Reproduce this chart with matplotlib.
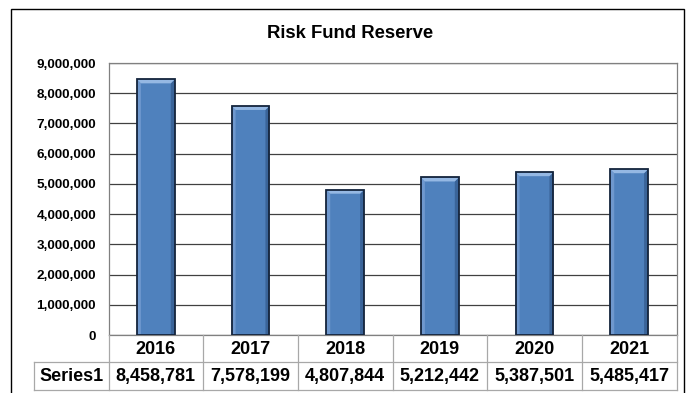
import matplotlib.pyplot as plt
from matplotlib.patches import Polygon, Rectangle

years = ["2016", "2017", "2018", "2019", "2020", "2021"]
reserve = [8458781, 7578199, 4807844, 5212442, 5387501, 5485417]
series_name = "Series1"
title = "Risk Fund Reserve"

W, H = 694, 393
fig = plt.figure(figsize=(W / 100, H / 100), dpi=100)
font = "Liberation Sans"


def fx(px):
    return px / W


def fy(py):
    return 1 - py / H


# plot area in pixels
L, R, T, B = 108.5, 676.5, 63, 335
ax = fig.add_axes([fx(L), fy(B), fx(R - L), fy(T) - fy(B)])
ax.set_xlim(0, len(years))
ax.set_ylim(0, 9000000)
ax.set_yticks(range(0, 9000001, 1000000))
ax.set_yticklabels([f"{v:,}" for v in range(0, 9000001, 1000000)],
                   fontsize=9.7, fontweight="bold", family=font)
ax.set_xticks([])
ax.tick_params(axis="y", length=0, pad=9)
ax.grid(axis="y", color="#404040", linewidth=0.9)
ax.set_axisbelow(True)
for s in ax.spines.values():
    s.set_color("#808080")
    s.set_linewidth(0.9)

# bars with a bevelled look
bw = 0.4
bx = 4 / ((R - L) / len(years))   # bevel width in data units
by = 4 * 9000000 / (B - T)        # bevel height in data units
for i, v in enumerate(reserve):
    x0 = i + 0.5 - bw / 2
    x1 = x0 + bw
    ax.add_patch(Rectangle((x0, 0), bw, v, facecolor="#4F81BD", edgecolor="none", zorder=2))
    ax.add_patch(Polygon([(x0, 0), (x0 + bx, 0), (x0 + bx, v - by), (x0, v)],
                         facecolor="#6F98CE", edgecolor="none", zorder=3))
    ax.add_patch(Polygon([(x1, 0), (x1 - bx, 0), (x1 - bx, v - by), (x1, v)],
                         facecolor="#3A6499", edgecolor="none", zorder=3))
    ax.add_patch(Polygon([(x0, v), (x1, v), (x1 - bx, v - by), (x0 + bx, v - by)],
                         facecolor="#95B8E3", edgecolor="none", zorder=3))
    ax.add_patch(Rectangle((x0, 0), bw, v, facecolor="none", edgecolor="#14243C",
                           linewidth=1.3, zorder=4))

fig.text(fx(350), fy(34), title, ha="center", va="center", fontsize=13.3,
         fontweight="bold", family=font)

# data table below the plot
line_kw = dict(color="#A8A8A8", linewidth=0.9, transform=fig.transFigure)
row1, row2 = 362, 390
lc = 34
cw = (R - L) / len(years)
fig.add_artist(plt.Line2D([fx(lc), fx(R)], [fy(row1), fy(row1)], **line_kw))
fig.add_artist(plt.Line2D([fx(lc), fx(R)], [fy(row2), fy(row2)], **line_kw))
fig.add_artist(plt.Line2D([fx(lc), fx(lc)], [fy(row1), fy(row2)], **line_kw))
for k in range(len(years) + 1):
    xk = L + k * cw
    fig.add_artist(plt.Line2D([fx(xk), fx(xk)], [fy(B), fy(row2)], **line_kw))
for k, (yr, v) in enumerate(zip(years, reserve)):
    xc = L + (k + 0.5) * cw
    fig.text(fx(xc), fy(349.5), yr, ha="center", va="center",
             fontsize=13, fontweight="bold", family=font)
    fig.text(fx(xc), fy(376.5), f"{v:,}", ha="center", va="center",
             fontsize=13, fontweight="bold", family=font)
fig.text(fx((lc + L) / 2), fy(376.5), series_name, ha="center",
         va="center", fontsize=13, fontweight="bold", family=font)

# outer chart border
fig.add_artist(Rectangle((fx(11), fy(398)), fx(684 - 11), fy(9) - fy(398),
                         transform=fig.transFigure, fill=False,
                         edgecolor="black", linewidth=1.0))

fig.savefig("out.png", dpi=100, facecolor="white")
